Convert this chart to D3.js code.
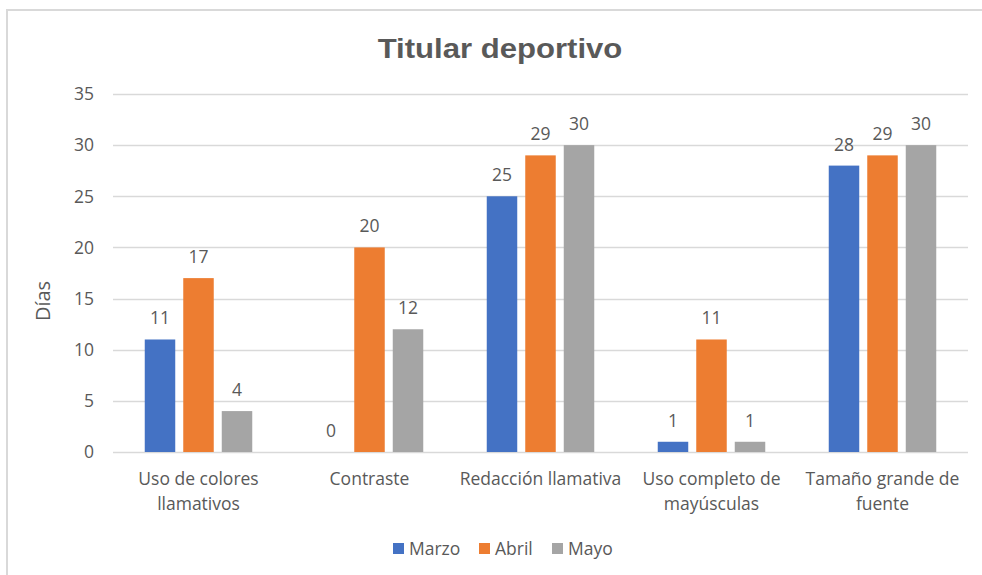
<!DOCTYPE html>
<html>
<head>
<meta charset="utf-8">
<script src="https://cdn.jsdelivr.net/npm/d3@7"></script>
<style>
  html, body { margin: 0; padding: 0; background: #ffffff; }
  svg { display: block; }
  text { font-family: "Open Sans", "Noto Sans", sans-serif; fill: #595959; }
</style>
</head>
<body>
<svg id="chart" width="982" height="575"></svg>
<script>
// Chart data
const categories = [
  ["Uso de colores", "llamativos"],
  ["Contraste"],
  ["Redacción llamativa"],
  ["Uso completo de", "mayúsculas"],
  ["Tamaño grande de", "fuente"]
];
const seriesNames = ["Marzo", "Abril", "Mayo"];
const marzo = [11, 0, 25, 1, 28];
const abril = [17, 20, 29, 11, 29];
const mayo  = [4, 12, 30, 1, 30];
const yTicks = [0, 5, 10, 15, 20, 25, 30, 35];
const colors = ["#4472C4", "#ED7D31", "#A5A5A5"];

const seriesValues = [marzo, abril, mayo];
const catKeys = categories.map(c => c.join(" "));

const svg = d3.select("#chart");

// Outer chart frame
svg.append("path")
  .attr("d", "M7,575 L7,10 L982,10")
  .attr("fill", "none")
  .attr("stroke", "#d9d9d9")
  .attr("stroke-width", 2);

const plot = { left: 113, right: 968, top: 94, bottom: 452 };

const y = d3.scaleLinear().domain([0, 35]).range([plot.bottom, plot.top]);
const x0 = d3.scaleBand().domain(catKeys).range([plot.left, plot.right]);
const x1 = d3.scaleBand().domain(seriesNames).range([-53.75, 53.75]).paddingInner(0.208);

// Gridlines
svg.append("g").selectAll("line")
  .data(yTicks)
  .join("line")
  .attr("x1", plot.left).attr("x2", plot.right)
  .attr("y1", d => Math.round(y(d)) + 0.5).attr("y2", d => Math.round(y(d)) + 0.5)
  .attr("stroke", "#d9d9d9")
  .attr("stroke-width", 1.3);

// Y axis tick labels
svg.append("g").selectAll("text")
  .data(yTicks)
  .join("text")
  .attr("x", 94)
  .attr("y", d => y(d))
  .attr("dy", "0.36em")
  .attr("text-anchor", "end")
  .attr("font-size", 17.5)
  .text(d => d);

// Y axis title
svg.append("text")
  .attr("transform", "translate(50,301) rotate(-90)")
  .attr("text-anchor", "middle")
  .attr("font-size", 20)
  .text("Días");

// Title
svg.append("text")
  .attr("transform", "translate(500,57.5) scale(1.11,1)")
  .attr("text-anchor", "middle")
  .style("font-family", "'Liberation Sans', Arial, sans-serif")
  .style("font-weight", "bold")
  .style("font-size", "28px")
  .style("fill", "#595959")
  .text("Titular deportivo");

// Bars and value labels
const groups = svg.append("g").selectAll("g")
  .data(catKeys)
  .join("g")
  .attr("transform", d => `translate(${x0(d) + x0.bandwidth() / 2},0)`);

groups.each(function (key, ci) {
  const g = d3.select(this);
  const rows = seriesNames.map((s, si) => ({ s, si, v: seriesValues[si][ci] }));
  g.selectAll("rect")
    .data(rows)
    .join("rect")
    .attr("x", d => x1(d.s))
    .attr("y", d => y(d.v))
    .attr("width", x1.bandwidth())
    .attr("height", d => y(0) - y(d.v))
    .attr("fill", d => colors[d.si]);
  g.selectAll("text.val")
    .data(rows)
    .join("text")
    .attr("class", "val")
    .attr("x", d => x1(d.s) + x1.bandwidth() / 2)
    .attr("y", d => y(d.v) - 15)
    .attr("text-anchor", "middle")
    .attr("font-size", 17.5)
    .text(d => d.v);
});

// Category labels
const catLabels = svg.append("g").selectAll("text")
  .data(categories)
  .join("text")
  .attr("x", (d, i) => x0(catKeys[i]) + x0.bandwidth() / 2)
  .attr("y", 485)
  .attr("text-anchor", "middle")
  .attr("font-size", 17.5);
catLabels.selectAll("tspan")
  .data(d => d)
  .join("tspan")
  .attr("x", function () { return d3.select(this.parentNode).attr("x"); })
  .attr("dy", (d, i) => i === 0 ? 0 : 25)
  .text(d => d);

// Legend
const legendItems = [
  { name: seriesNames[0], color: colors[0], x: 393 },
  { name: seriesNames[1], color: colors[1], x: 479 },
  { name: seriesNames[2], color: colors[2], x: 552 }
];
const legend = svg.append("g").selectAll("g")
  .data(legendItems)
  .join("g")
  .attr("transform", d => `translate(${d.x},543)`);
legend.append("rect")
  .attr("width", 11).attr("height", 11)
  .attr("fill", d => d.color);
legend.append("text")
  .attr("x", 16).attr("y", 5.5)
  .attr("dy", "0.36em")
  .attr("font-size", 17.5)
  .text(d => d.name);
</script>
</body>
</html>
